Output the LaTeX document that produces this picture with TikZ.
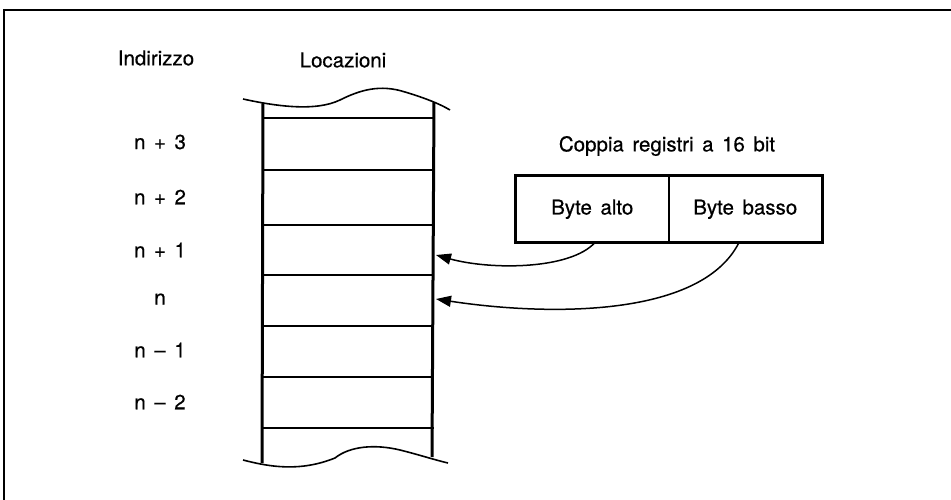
\documentclass[tikz,border=0pt]{standalone}
\usepackage{fontspec}
\setmainfont{TeX Gyre Heros}[FakeBold=0.5, WordSpace={1.5}]
\usetikzlibrary{arrows.meta}
\begin{document}
\begin{tikzpicture}[x=1pt,y=-1pt,
  lbl/.style={font=\fontsize{20.5}{24}\selectfont, inner sep=0pt},
  thin line/.style={line width=1.6pt},
  thick line/.style={line width=3pt},
  regbox/.style={draw, line width=1.5pt, minimum width=153pt, minimum height=65pt, inner sep=0pt, font=\fontsize{20.5}{24}\selectfont},
  ptr/.style={line width=1.5pt, -{Triangle[length=15pt,width=11pt]}}]
\useasboundingbox (0,0) rectangle (951,500);
% outer frame (only top and left visible)
\draw[line width=2.2pt] (951,10) -- (4,10) -- (4,500);
% headings
\node[lbl] (hind) at (156,58) {Indirizzo};
\node[lbl] (hloc) at (343,60) {Locazioni};
% address labels
\node[lbl] (a3) at (160,142) {n + 3};
\node[lbl] (a2) at (160,197) {n + 2};
\node[lbl] (a1) at (160,250) {n + 1};
\node[lbl] (a0) at (160,299) {n};
\node[lbl] (am1) at (160,350) {n -- 1};
\node[lbl] (am2) at (160,402) {n -- 2};
% memory column
\coordinate (tl) at (263,103);
\coordinate (tr) at (434,102);
\coordinate (bl) at (262,463);
\coordinate (br) at (432,457);
\draw[thick line] (tl) -- (bl);
\draw[thick line] (tr) -- (br);
\foreach \y in {118,170,225,275,326,377,428} {
  \draw[thin line] (262.5,\y) -- (433.5,\y);
}
% torn edges
\draw[thin line] (243,99) .. controls (275,106) and (315,112) .. (340,100)
  .. controls (360,90) and (380,84) .. (405,92) .. controls (425,98) and (440,104) .. (450,110);
\draw[thin line] (243,460) .. controls (270,467) and (300,472) .. (335,458)
  .. controls (350,446) and (375,444) .. (400,450) .. controls (420,455) and (435,460) .. (448,463);
% register pair
\node[lbl] (title) at (667,146) {Coppia registri a 16 bit};
\node[regbox, anchor=north west] (hi) at (515,176) {Byte alto};
\node[regbox, anchor=north west] (lo) at (668,176) {Byte basso};
\draw[thick line] (hi.north west) rectangle (lo.south east);
% pointers
\coordinate (t1) at (436,255);
\coordinate (t0) at (436,299);
\draw[ptr] ([xshift=80pt]hi.south west) .. controls (570,270) and (490,270) .. (t1);
\draw[ptr] ([xshift=71pt]lo.south west) .. controls (700,320) and (540,315) .. (t0);
\end{tikzpicture}
\end{document}
